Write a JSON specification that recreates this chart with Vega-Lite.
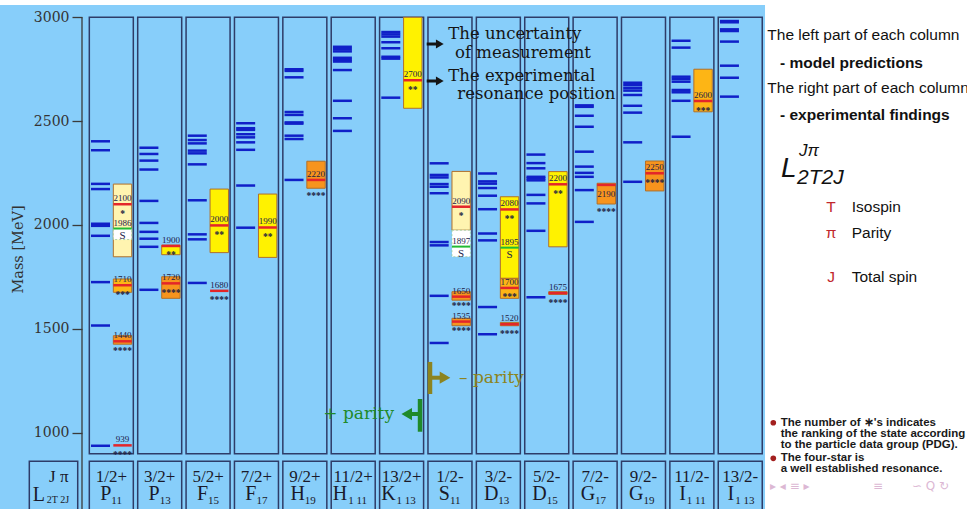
{
 "$schema": "https://vega.github.io/schema/vega-lite/v6.json",
 "width": 885, "height": 509,
 "autosize": {"type": "none"},
 "padding": {"left": 82, "top": 0, "right": 0, "bottom": 0},
 "background": "#87cefa",
 "config": {"view": {"stroke": null}},
 "datasets": {
  "cols": [
   {"col":1,"jp":"1/2+","L":"P","sub":"11"},
   {"col":2,"jp":"3/2+","L":"P","sub":"13"},
   {"col":3,"jp":"5/2+","L":"F","sub":"15"},
   {"col":4,"jp":"7/2+","L":"F","sub":"17"},
   {"col":5,"jp":"9/2+","L":"H","sub":"19"},
   {"col":6,"jp":"11/2+","L":"H","sub":"1 11"},
   {"col":7,"jp":"13/2+","L":"K","sub":"1 13"},
   {"col":8,"jp":"1/2-","L":"S","sub":"11"},
   {"col":9,"jp":"3/2-","L":"D","sub":"13"},
   {"col":10,"jp":"5/2-","L":"D","sub":"15"},
   {"col":11,"jp":"7/2-","L":"G","sub":"17"},
   {"col":12,"jp":"9/2-","L":"G","sub":"19"},
   {"col":13,"jp":"11/2-","L":"I","sub":"1 11"},
   {"col":14,"jp":"13/2-","L":"I","sub":"1 13"}
  ],
  "model": [
   {"col":1,"m":2403},{"col":1,"m":2360},{"col":1,"m":2198},{"col":1,"m":2173},{"col":1,"m":2006},{"col":1,"m":1996},{"col":1,"m":1948},{"col":1,"m":1725},{"col":1,"m":1516},{"col":1,"m":937},
   {"col":2,"m":2372},{"col":2,"m":2342},{"col":2,"m":2310},{"col":2,"m":2267},{"col":2,"m":2116},{"col":2,"m":2010},{"col":2,"m":1967},{"col":2,"m":1934},{"col":2,"m":1895},{"col":2,"m":1688},
   {"col":3,"m":2430},{"col":3,"m":2409},{"col":3,"m":2393},{"col":3,"m":2358},{"col":3,"m":2345},{"col":3,"m":2292},{"col":3,"m":2119},{"col":3,"m":1955},{"col":3,"m":1931},{"col":3,"m":1721},
   {"col":4,"m":2490},{"col":4,"m":2466},{"col":4,"m":2458},{"col":4,"m":2437},{"col":4,"m":2422},{"col":4,"m":2398},{"col":4,"m":2362},{"col":4,"m":2190},{"col":4,"m":1987},
   {"col":5,"m":2750},{"col":5,"m":2742},{"col":5,"m":2711},{"col":5,"m":2544},{"col":5,"m":2530},{"col":5,"m":2494},{"col":5,"m":2488},{"col":5,"m":2430},{"col":5,"m":2414},{"col":5,"m":2217},
   {"col":6,"m":2858},{"col":6,"m":2847},{"col":6,"m":2836},{"col":6,"m":2805},{"col":6,"m":2795},{"col":6,"m":2787},{"col":6,"m":2746},{"col":6,"m":2598},{"col":6,"m":2514},{"col":6,"m":2453},
   {"col":7,"m":2929},{"col":7,"m":2918},{"col":7,"m":2907},{"col":7,"m":2880},{"col":7,"m":2851},{"col":7,"m":2810},{"col":7,"m":2801},{"col":7,"m":2613},
   {"col":8,"m":2297},{"col":8,"m":2241},{"col":8,"m":2229},{"col":8,"m":2197},{"col":8,"m":2184},{"col":8,"m":2153},{"col":8,"m":1918},{"col":8,"m":1902},{"col":8,"m":1659},{"col":8,"m":1432},
   {"col":9,"m":2248},{"col":9,"m":2210},{"col":9,"m":2199},{"col":9,"m":2178},{"col":9,"m":2141},{"col":9,"m":2076},{"col":9,"m":1959},{"col":9,"m":1926},{"col":9,"m":1605},{"col":9,"m":1474},
   {"col":10,"m":2339},{"col":10,"m":2298},{"col":10,"m":2273},{"col":10,"m":2232},{"col":10,"m":2224},{"col":10,"m":2215},{"col":10,"m":2145},{"col":10,"m":2104},{"col":10,"m":1972},{"col":10,"m":1652},
   {"col":11,"m":2576},{"col":11,"m":2569},{"col":11,"m":2526},{"col":11,"m":2473},{"col":11,"m":2353},{"col":11,"m":2281},{"col":11,"m":2251},{"col":11,"m":2232},{"col":11,"m":2168},{"col":11,"m":2015},
   {"col":12,"m":2685},{"col":12,"m":2673},{"col":12,"m":2659},{"col":12,"m":2647},{"col":12,"m":2626},{"col":12,"m":2574},{"col":12,"m":2541},{"col":12,"m":2398},{"col":12,"m":2208},
   {"col":13,"m":2887},{"col":13,"m":2854},{"col":13,"m":2714},{"col":13,"m":2703},{"col":13,"m":2690},{"col":13,"m":2650},{"col":13,"m":2639},{"col":13,"m":2598},{"col":13,"m":2425},
   {"col":14,"m":2982},{"col":14,"m":2976},{"col":14,"m":2942},{"col":14,"m":2934},{"col":14,"m":2883},{"col":14,"m":2767},{"col":14,"m":2709},{"col":14,"m":2618}
  ],
  "exp": [
   {"col":1,"label":"939","mass":939,"lo":939,"hi":939,"rating":"****"},
   {"col":1,"label":"1440","mass":1440,"lo":1426,"hi":1467,"rating":"****"},
   {"col":1,"label":"1710","mass":1710,"lo":1676,"hi":1740,"rating":"***"},
   {"col":1,"label":"2100","mass":2100,"lo":1847,"hi":2197,"rating":"*"},
   {"col":2,"label":"1720","mass":1719,"lo":1647,"hi":1751,"rating":"****"},
   {"col":2,"label":"1900","mass":1899,"lo":1857,"hi":1903,"rating":"**"},
   {"col":3,"label":"1680","mass":1683,"lo":1683,"hi":1683,"rating":"****"},
   {"col":3,"label":"2000","mass":1998,"lo":1867,"hi":2173,"rating":"**"},
   {"col":4,"label":"1990","mass":1988,"lo":1844,"hi":2149,"rating":"**"},
   {"col":5,"label":"2220","mass":2217,"lo":2177,"hi":2307,"rating":"****"},
   {"col":7,"label":"2700","mass":2697,"lo":2562,"hi":3000,"rating":"**"},
   {"col":8,"label":"1535","mass":1535,"lo":1515,"hi":1551,"rating":"****"},
   {"col":8,"label":"1650","mass":1655,"lo":1638,"hi":1679,"rating":"****"},
   {"col":8,"label":"2090","mass":2088,"lo":1975,"hi":2258,"rating":"*"},
   {"col":9,"label":"1520","mass":1522,"lo":1515,"hi":1531,"rating":"****"},
   {"col":9,"label":"2080","mass":2075,"lo":1743,"hi":2136,"rating":"**"},
   {"col":9,"label":"1700","mass":1697,"lo":1647,"hi":1743,"rating":"***"},
   {"col":10,"label":"1675","mass":1672,"lo":1666,"hi":1679,"rating":"****"},
   {"col":10,"label":"2200","mass":2196,"lo":1895,"hi":2257,"rating":"**"},
   {"col":11,"label":"2190","mass":2193,"lo":2101,"hi":2201,"rating":"****"},
   {"col":12,"label":"2250","mass":2249,"lo":2164,"hi":2308,"rating":"****"},
   {"col":13,"label":"2600","mass":2597,"lo":2545,"hi":2750,"rating":"***"}
  ],
  "sst": [
   {"col":1,"label":"1986","mass":1983,"lo":1930,"hi":1983},
   {"col":8,"label":"1897","mass":1896,"lo":1847,"hi":1975},
   {"col":9,"label":"1895","mass":1891,"lo":1891,"hi":1891}
  ]
 },
 "layer": [
  {"data": {"values": [{"a": 14.512, "b": 19.5, "c": 600, "d": 3100}, {"a": -2, "b": 19.5, "c": 3059, "d": 3100}]},
   "mark": {"type": "rect", "fill": "#ffffff"},
   "encoding": {
    "x": {"field": "a", "type": "quantitative", "scale": {"domain": [0.394, 18.687], "nice": false, "zero": false}, "axis": null},
    "x2": {"field": "b"},
    "y": {"field": "c", "type": "quantitative", "scale": {"domain": [632.6, 3083.3], "nice": false, "zero": false}},
    "y2": {"field": "d"}
   }},
  {"data": {"name": "cols"},
   "mark": {"type": "rect", "fill": "#87cefa", "stroke": "#2e3c68", "strokeWidth": 1.5, "xOffset": -22, "x2Offset": 22},
   "encoding": {
    "x": {"field": "col", "type": "quantitative", "scale": {"domain": [0.394, 18.687], "nice": false, "zero": false}, "axis": null},
    "x2": {"field": "col"},
    "y": {"datum": 899, "type": "quantitative", "scale": {"domain": [632.6, 3083.3], "nice": false, "zero": false}},
    "y2": {"datum": 3000}
   }},
  {"data": {"name": "cols"},
   "mark": {"type": "rect", "fill": "#87cefa", "stroke": "#2e3c68", "strokeWidth": 1.5, "xOffset": -22, "x2Offset": 22},
   "encoding": {
    "x": {"field": "col", "type": "quantitative", "scale": {"domain": [0.394, 18.687], "nice": false, "zero": false}, "axis": null},
    "x2": {"field": "col"},
    "y": {"datum": 862, "type": "quantitative", "scale": {"domain": [632.6, 3083.3], "nice": false, "zero": false}},
    "y2": {"datum": 600}
   }},
  {"data": {"values": [{}]},
   "mark": {"type": "rect", "fill": "#87cefa", "stroke": "#2e3c68", "strokeWidth": 1.5},
   "encoding": {
    "x": {"datum": -0.695, "type": "quantitative", "scale": {"domain": [0.394, 18.687], "nice": false, "zero": false}, "axis": null},
    "x2": {"datum": 0.3055},
    "y": {"datum": 862, "type": "quantitative", "scale": {"domain": [632.6, 3083.3], "nice": false, "zero": false}},
    "y2": {"datum": 600}
   }},
  {"data": {"values": [{}]},
   "mark": {"type": "rule", "stroke": "#3a3a3a", "strokeWidth": 1.3},
   "encoding": {
    "x": {"datum": 0.394, "type": "quantitative", "scale": {"domain": [0.394, 18.687], "nice": false, "zero": false}, "axis": null},
    "y": {"datum": 3000, "type": "quantitative", "scale": {"domain": [632.6, 3083.3], "nice": false, "zero": false}},
    "y2": {"datum": 600}
   }},
  {"data": {"name": "cols"},
   "mark": {"type": "text", "font": "Liberation Serif", "fontSize": 17, "fill": "#1a1a2a", "align": "center", "baseline": "middle"},
   "encoding": {
    "x": {"field": "col", "type": "quantitative", "scale": {"domain": [0.394, 18.687], "nice": false, "zero": false}, "axis": null},
    "y": {"datum": 787.9, "type": "quantitative", "scale": {"domain": [632.6, 3083.3], "nice": false, "zero": false}},
    "text": {"field": "jp"}
   }},
  {"data": {"name": "cols"},
   "transform": [{"filter": "length(datum.sub) <= 2"}],
   "mark": {"type": "text", "font": "Liberation Serif", "fontSize": 20, "fill": "#1a1a2a", "align": "right", "baseline": "alphabetic", "dx": 0},
   "encoding": {
    "x": {"field": "col", "type": "quantitative", "scale": {"domain": [0.394, 18.687], "nice": false, "zero": false}, "axis": null},
    "y": {"datum": 675.8, "type": "quantitative", "scale": {"domain": [632.6, 3083.3], "nice": false, "zero": false}},
    "text": {"field": "L"}
   }},
  {"data": {"name": "cols"},
   "transform": [{"filter": "length(datum.sub) <= 2"}],
   "mark": {"type": "text", "font": "Liberation Serif", "fontSize": 11, "fill": "#1a1a2a", "align": "left", "baseline": "alphabetic", "dx": 0, "dy": 4},
   "encoding": {
    "x": {"field": "col", "type": "quantitative", "scale": {"domain": [0.394, 18.687], "nice": false, "zero": false}, "axis": null},
    "y": {"datum": 675.8, "type": "quantitative", "scale": {"domain": [632.6, 3083.3], "nice": false, "zero": false}},
    "text": {"field": "sub"}
   }},
  {"data": {"name": "cols"},
   "transform": [{"filter": "length(datum.sub) > 2"}],
   "mark": {"type": "text", "font": "Liberation Serif", "fontSize": 20, "fill": "#1a1a2a", "align": "right", "baseline": "alphabetic", "dx": -6},
   "encoding": {
    "x": {"field": "col", "type": "quantitative", "scale": {"domain": [0.394, 18.687], "nice": false, "zero": false}, "axis": null},
    "y": {"datum": 675.8, "type": "quantitative", "scale": {"domain": [632.6, 3083.3], "nice": false, "zero": false}},
    "text": {"field": "L"}
   }},
  {"data": {"name": "cols"},
   "transform": [{"filter": "length(datum.sub) > 2"}],
   "mark": {"type": "text", "font": "Liberation Serif", "fontSize": 11, "fill": "#1a1a2a", "align": "left", "baseline": "alphabetic", "dx": -5, "dy": 4},
   "encoding": {
    "x": {"field": "col", "type": "quantitative", "scale": {"domain": [0.394, 18.687], "nice": false, "zero": false}, "axis": null},
    "y": {"datum": 675.8, "type": "quantitative", "scale": {"domain": [632.6, 3083.3], "nice": false, "zero": false}},
    "text": {"field": "sub"}
   }},
  {"data": {"values": [{}]},
   "mark": {"type": "text", "text": "J π", "font": "Liberation Serif", "fontSize": 17, "fill": "#1a1a2a", "align": "center", "baseline": "middle"},
   "encoding": {
    "x": {"datum": -0.085, "type": "quantitative", "scale": {"domain": [0.394, 18.687], "nice": false, "zero": false}, "axis": null},
    "y": {"datum": 787.9, "type": "quantitative", "scale": {"domain": [632.6, 3083.3], "nice": false, "zero": false}}
   }},
  {"data": {"values": [{}]},
   "mark": {"type": "text", "text": "L", "font": "Liberation Serif", "fontSize": 20, "fill": "#1a1a2a", "align": "right", "baseline": "alphabetic"},
   "encoding": {
    "x": {"datum": -0.37, "type": "quantitative", "scale": {"domain": [0.394, 18.687], "nice": false, "zero": false}, "axis": null},
    "y": {"datum": 671, "type": "quantitative", "scale": {"domain": [632.6, 3083.3], "nice": false, "zero": false}}
   }},
  {"data": {"values": [{}]},
   "mark": {"type": "text", "text": "2T 2J", "font": "Liberation Serif", "fontSize": 10, "fill": "#1a1a2a", "align": "left", "baseline": "alphabetic"},
   "encoding": {
    "x": {"datum": -0.335, "type": "quantitative", "scale": {"domain": [0.394, 18.687], "nice": false, "zero": false}, "axis": null},
    "y": {"datum": 660, "type": "quantitative", "scale": {"domain": [632.6, 3083.3], "nice": false, "zero": false}}
   }},
  {"data": {"name": "model"},
   "mark": {"type": "rule", "stroke": "#1020c8", "strokeWidth": 2.5, "xOffset": -20.3, "x2Offset": -1.3},
   "encoding": {
    "x": {"field": "col", "type": "quantitative", "scale": {"domain": [0.394, 18.687], "nice": false, "zero": false}, "axis": null},
    "x2": {"field": "col"},
    "y": {"field": "m", "type": "quantitative", "scale": {"domain": [632.6, 3083.3], "nice": false, "zero": false},
     "axis": {"values": [1000,1500,2000,2500,3000], "format": "d", "title": "Mass [MeV]", "domain": false, "grid": false, "zindex": 1, "orient": "left",
      "tickSize": 10, "tickColor": "#3a3a3a", "tickWidth": 1.3, "labelFont": "DejaVu Serif", "labelFontSize": 14,
      "labelColor": "#333333", "labelPadding": 3, "titleFont": "DejaVu Serif", "titleFontSize": 14.5, "titleFontWeight": "normal",
      "titleColor": "#333333", "titleX": -64, "titleY": 249, "titleAngle": -90, "titleAlign": "center", "titleBaseline": "middle"}}
   }},
  {"data": {"name": "exp"},
   "transform": [{"filter": "datum.hi > datum.lo"}],
   "mark": {"type": "rect", "stroke": "#b0702a", "strokeWidth": 1, "xOffset": 2, "x2Offset": 20.4},
   "encoding": {
    "x": {"field": "col", "type": "quantitative", "scale": {"domain": [0.394, 18.687], "nice": false, "zero": false}, "axis": null},
    "x2": {"field": "col"},
    "y": {"field": "lo", "type": "quantitative", "scale": {"domain": [632.6, 3083.3], "nice": false, "zero": false}},
    "y2": {"field": "hi"},
    "fill": {"field": "rating", "type": "nominal", "scale": {"domain": ["****","***","**","*"], "range": ["#f7941d","#fdb515","#fff200","#fff4b0"]}, "legend": null},
    "strokeDash": {"field": "rating", "type": "nominal", "scale": {"domain": ["****","***","**","*"], "range": [[1,0],[1,0],[3,2],[3,2]]}, "legend": null}
   }},
  {"data": {"name": "exp"},
   "mark": {"type": "rule", "stroke": "#e3262a", "strokeWidth": 2.5, "xOffset": 2, "x2Offset": 20.4},
   "encoding": {
    "x": {"field": "col", "type": "quantitative", "scale": {"domain": [0.394, 18.687], "nice": false, "zero": false}, "axis": null},
    "x2": {"field": "col"},
    "y": {"field": "mass", "type": "quantitative", "scale": {"domain": [632.6, 3083.3], "nice": false, "zero": false}}
   }},
  {"data": {"name": "sst"},
   "transform": [{"filter": "datum.hi > datum.lo"}],
   "mark": {"type": "rect", "fill": "#ffffff", "stroke": "#9acd9a", "strokeWidth": 0.8, "strokeDash": [2,2], "xOffset": 2, "x2Offset": 20.4},
   "encoding": {
    "x": {"field": "col", "type": "quantitative", "scale": {"domain": [0.394, 18.687], "nice": false, "zero": false}, "axis": null},
    "x2": {"field": "col"},
    "y": {"field": "lo", "type": "quantitative", "scale": {"domain": [632.6, 3083.3], "nice": false, "zero": false}},
    "y2": {"field": "hi"}
   }},
  {"data": {"name": "sst"},
   "mark": {"type": "rule", "stroke": "#22bb33", "strokeWidth": 2, "xOffset": 2, "x2Offset": 20.4},
   "encoding": {
    "x": {"field": "col", "type": "quantitative", "scale": {"domain": [0.394, 18.687], "nice": false, "zero": false}, "axis": null},
    "x2": {"field": "col"},
    "y": {"field": "mass", "type": "quantitative", "scale": {"domain": [632.6, 3083.3], "nice": false, "zero": false}}
   }},
  {"data": {"name": "exp"},
   "transform": [{"filter": "datum.label != '2190'"}],
   "mark": {"type": "text", "font": "Liberation Serif", "fontSize": 9, "fill": "#202048", "align": "center", "baseline": "middle", "dx": 11.2, "dy": -6},
   "encoding": {
    "x": {"field": "col", "type": "quantitative", "scale": {"domain": [0.394, 18.687], "nice": false, "zero": false}, "axis": null},
    "y": {"field": "mass", "type": "quantitative", "scale": {"domain": [632.6, 3083.3], "nice": false, "zero": false}},
    "text": {"field": "label"}
   }},
  {"data": {"name": "exp"},
   "transform": [{"filter": "datum.label == '2190'"}],
   "mark": {"type": "text", "font": "Liberation Serif", "fontSize": 9, "fill": "#202048", "align": "center", "baseline": "middle", "dx": 11.2, "dy": 9},
   "encoding": {
    "x": {"field": "col", "type": "quantitative", "scale": {"domain": [0.394, 18.687], "nice": false, "zero": false}, "axis": null},
    "y": {"field": "mass", "type": "quantitative", "scale": {"domain": [632.6, 3083.3], "nice": false, "zero": false}},
    "text": {"field": "label"}
   }},
  {"data": {"name": "exp"},
   "transform": [{"filter": "datum.label != '2190' && datum.label != '2220'"}],
   "mark": {"type": "text", "font": "Liberation Serif", "fontSize": 9.5, "fontWeight": "bold", "fill": "#202040", "align": "center", "baseline": "alphabetic", "dx": 11.2, "dy": 12.5},
   "encoding": {
    "x": {"field": "col", "type": "quantitative", "scale": {"domain": [0.394, 18.687], "nice": false, "zero": false}, "axis": null},
    "y": {"field": "mass", "type": "quantitative", "scale": {"domain": [632.6, 3083.3], "nice": false, "zero": false}},
    "text": {"field": "rating"}
   }},
  {"data": {"name": "exp"},
   "transform": [{"filter": "datum.label == '2190' || datum.label == '2220'"}],
   "mark": {"type": "text", "font": "Liberation Serif", "fontSize": 9.5, "fontWeight": "bold", "fill": "#202040", "align": "center", "baseline": "alphabetic", "dx": 11.2, "dy": 11},
   "encoding": {
    "x": {"field": "col", "type": "quantitative", "scale": {"domain": [0.394, 18.687], "nice": false, "zero": false}, "axis": null},
    "y": {"field": "lo", "type": "quantitative", "scale": {"domain": [632.6, 3083.3], "nice": false, "zero": false}},
    "text": {"field": "rating"}
   }},
  {"data": {"name": "sst"},
   "mark": {"type": "text", "font": "Liberation Serif", "fontSize": 9, "fill": "#202048", "align": "center", "baseline": "middle", "dx": 11.2, "dy": -6},
   "encoding": {
    "x": {"field": "col", "type": "quantitative", "scale": {"domain": [0.394, 18.687], "nice": false, "zero": false}, "axis": null},
    "y": {"field": "mass", "type": "quantitative", "scale": {"domain": [632.6, 3083.3], "nice": false, "zero": false}},
    "text": {"field": "label"}
   }},
  {"data": {"name": "sst"},
   "mark": {"type": "text", "text": "S", "font": "Liberation Serif", "fontSize": 11, "fill": "#202048", "align": "center", "baseline": "middle", "dx": 11.2, "dy": 7.5},
   "encoding": {
    "x": {"field": "col", "type": "quantitative", "scale": {"domain": [0.394, 18.687], "nice": false, "zero": false}, "axis": null},
    "y": {"field": "mass", "type": "quantitative", "scale": {"domain": [632.6, 3083.3], "nice": false, "zero": false}}
   }},
  {"data": {"values": [{"t": "The uncertainty", "x": 7.966, "y": 2919.6}, {"t": "of measurement", "x": 8.104, "y": 2826.7}, {"t": "The experimental", "x": 7.966, "y": 2717.4}, {"t": "resonance position", "x": 8.152, "y": 2630.7}]},
   "mark": {"type": "text", "font": "DejaVu Serif", "fontSize": 16.5, "fill": "#151515", "align": "left", "baseline": "middle"},
   "encoding": {
    "x": {"field": "x", "type": "quantitative", "scale": {"domain": [0.394, 18.687], "nice": false, "zero": false}, "axis": null},
    "y": {"field": "y", "type": "quantitative", "scale": {"domain": [632.6, 3083.3], "nice": false, "zero": false}},
    "text": {"field": "t"}
   }},
  {"data": {"values": [{"y": 2871.4}, {"y": 2693.3}]},
   "mark": {"type": "rule", "stroke": "#151515", "strokeWidth": 3},
   "encoding": {
    "x": {"datum": 7.519, "type": "quantitative", "scale": {"domain": [0.394, 18.687], "nice": false, "zero": false}, "axis": null},
    "x2": {"datum": 7.75},
    "y": {"field": "y", "type": "quantitative", "scale": {"domain": [632.6, 3083.3], "nice": false, "zero": false}}
   }},
  {"data": {"values": [{"y": 2871.4}, {"y": 2693.3}]},
   "mark": {"type": "point", "shape": "triangle-right", "filled": true, "fill": "#151515", "size": 80, "opacity": 1},
   "encoding": {
    "x": {"datum": 7.79, "type": "quantitative", "scale": {"domain": [0.394, 18.687], "nice": false, "zero": false}, "axis": null},
    "y": {"field": "y", "type": "quantitative", "scale": {"domain": [632.6, 3083.3], "nice": false, "zero": false}}
   }},
  {"data": {"values": [{}]},
   "mark": {"type": "rule", "stroke": "#8c8420", "strokeWidth": 4.5},
   "encoding": {
    "x": {"datum": 7.587, "type": "quantitative", "scale": {"domain": [0.394, 18.687], "nice": false, "zero": false}, "axis": null},
    "y": {"datum": 1186.4, "type": "quantitative", "scale": {"domain": [632.6, 3083.3], "nice": false, "zero": false}},
    "y2": {"datum": 1340.6}
   }},
  {"data": {"values": [{}]},
   "mark": {"type": "rule", "stroke": "#8c8420", "strokeWidth": 4},
   "encoding": {
    "x": {"datum": 7.587, "type": "quantitative", "scale": {"domain": [0.394, 18.687], "nice": false, "zero": false}, "axis": null},
    "x2": {"datum": 7.82},
    "y": {"datum": 1264.7, "type": "quantitative", "scale": {"domain": [632.6, 3083.3], "nice": false, "zero": false}}
   }},
  {"data": {"values": [{}]},
   "mark": {"type": "point", "shape": "triangle-right", "filled": true, "fill": "#8c8420", "size": 150, "opacity": 1},
   "encoding": {
    "x": {"datum": 7.897, "type": "quantitative", "scale": {"domain": [0.394, 18.687], "nice": false, "zero": false}, "axis": null},
    "y": {"datum": 1264.7, "type": "quantitative", "scale": {"domain": [632.6, 3083.3], "nice": false, "zero": false}}
   }},
  {"data": {"values": [{}]},
   "mark": {"type": "text", "text": "– parity", "font": "DejaVu Serif", "fontSize": 17, "fill": "#8c8420", "align": "left", "baseline": "middle"},
   "encoding": {
    "x": {"datum": 8.187, "type": "quantitative", "scale": {"domain": [0.394, 18.687], "nice": false, "zero": false}, "axis": null},
    "y": {"datum": 1264.7, "type": "quantitative", "scale": {"domain": [632.6, 3083.3], "nice": false, "zero": false}}
   }},
  {"data": {"values": [{}]},
   "mark": {"type": "rule", "stroke": "#1f8a2a", "strokeWidth": 4.5},
   "encoding": {
    "x": {"datum": 7.381, "type": "quantitative", "scale": {"domain": [0.394, 18.687], "nice": false, "zero": false}, "axis": null},
    "y": {"datum": 1004.6, "type": "quantitative", "scale": {"domain": [632.6, 3083.3], "nice": false, "zero": false}},
    "y2": {"datum": 1162.1}
   }},
  {"data": {"values": [{}]},
   "mark": {"type": "rule", "stroke": "#1f8a2a", "strokeWidth": 4},
   "encoding": {
    "x": {"datum": 7.16, "type": "quantitative", "scale": {"domain": [0.394, 18.687], "nice": false, "zero": false}, "axis": null},
    "x2": {"datum": 7.381},
    "y": {"datum": 1089.9, "type": "quantitative", "scale": {"domain": [632.6, 3083.3], "nice": false, "zero": false}}
   }},
  {"data": {"values": [{}]},
   "mark": {"type": "point", "shape": "triangle-left", "filled": true, "fill": "#1f8a2a", "size": 150, "opacity": 1},
   "encoding": {
    "x": {"datum": 7.106, "type": "quantitative", "scale": {"domain": [0.394, 18.687], "nice": false, "zero": false}, "axis": null},
    "y": {"datum": 1089.9, "type": "quantitative", "scale": {"domain": [632.6, 3083.3], "nice": false, "zero": false}}
   }},
  {"data": {"values": [{}]},
   "mark": {"type": "text", "text": "+ parity", "font": "DejaVu Serif", "fontSize": 17, "fill": "#1f8a2a", "align": "right", "baseline": "middle"},
   "encoding": {
    "x": {"datum": 6.843, "type": "quantitative", "scale": {"domain": [0.394, 18.687], "nice": false, "zero": false}, "axis": null},
    "y": {"datum": 1089.9, "type": "quantitative", "scale": {"domain": [632.6, 3083.3], "nice": false, "zero": false}}
   }},
  {"data": {"values": [{"t": "The left part of each column", "x": 14.559, "y": 2914.8}, {"t": "The right part of each column", "x": 14.559, "y": 2658.1}]},
   "mark": {"type": "text", "font": "Liberation Sans", "fontSize": 15.5, "fill": "#111111", "align": "left", "baseline": "middle"},
   "encoding": {
    "x": {"field": "x", "type": "quantitative", "scale": {"domain": [0.394, 18.687], "nice": false, "zero": false}, "axis": null},
    "y": {"field": "y", "type": "quantitative", "scale": {"domain": [632.6, 3083.3], "nice": false, "zero": false}},
    "text": {"field": "t"}
   }},
  {"data": {"values": [{"t": "- model predictions", "x": 14.822, "y": 2781.4}, {"t": "- experimental findings", "x": 14.822, "y": 2529.6}]},
   "mark": {"type": "text", "font": "Liberation Sans", "fontSize": 15.5, "fontWeight": "bold", "fill": "#111111", "align": "left", "baseline": "middle"},
   "encoding": {
    "x": {"field": "x", "type": "quantitative", "scale": {"domain": [0.394, 18.687], "nice": false, "zero": false}, "axis": null},
    "y": {"field": "y", "type": "quantitative", "scale": {"domain": [632.6, 3083.3], "nice": false, "zero": false}},
    "text": {"field": "t"}
   }},
  {"data": {"values": [{"t": "L", "x": 14.843, "y": 2232.5, "s": 28}, {"t": "Jπ", "x": 15.215, "y": 2332.2, "s": 17}, {"t": "2T2J", "x": 15.173, "y": 2195.9, "s": 21}]},
   "mark": {"type": "text", "font": "Liberation Sans", "fontStyle": "italic", "fill": "#111111", "align": "left", "baseline": "alphabetic"},
   "encoding": {
    "x": {"field": "x", "type": "quantitative", "scale": {"domain": [0.394, 18.687], "nice": false, "zero": false}, "axis": null},
    "y": {"field": "y", "type": "quantitative", "scale": {"domain": [632.6, 3083.3], "nice": false, "zero": false}},
    "text": {"field": "t"},
    "size": {"field": "s", "type": "quantitative", "scale": null}
   }},
  {"data": {"values": [{"t": "T", "y": 2088.0}, {"t": "π", "y": 1961.4}, {"t": "J", "y": 1748.1}]},
   "mark": {"type": "text", "font": "Liberation Sans", "fontSize": 15.5, "fill": "#c1272d", "align": "center", "baseline": "middle"},
   "encoding": {
    "x": {"datum": 15.876, "type": "quantitative", "scale": {"domain": [0.394, 18.687], "nice": false, "zero": false}, "axis": null},
    "y": {"field": "y", "type": "quantitative", "scale": {"domain": [632.6, 3083.3], "nice": false, "zero": false}},
    "text": {"field": "t"}
   }},
  {"data": {"values": [{"t": "Isospin", "y": 2088.0}, {"t": "Parity", "y": 1961.4}, {"t": "Total spin", "y": 1748.1}]},
   "mark": {"type": "text", "font": "Liberation Sans", "fontSize": 15.5, "fill": "#111111", "align": "left", "baseline": "middle"},
   "encoding": {
    "x": {"datum": 16.304, "type": "quantitative", "scale": {"domain": [0.394, 18.687], "nice": false, "zero": false}, "axis": null},
    "y": {"field": "y", "type": "quantitative", "scale": {"domain": [632.6, 3083.3], "nice": false, "zero": false}},
    "text": {"field": "t"}
   }},
  {"data": {"values": [{"y": 1048.0}, {"y": 876.6}]},
   "mark": {"type": "point", "shape": "circle", "filled": true, "fill": "#a3201f", "size": 32, "opacity": 1},
   "encoding": {
    "x": {"datum": 14.683, "type": "quantitative", "scale": {"domain": [0.394, 18.687], "nice": false, "zero": false}, "axis": null},
    "y": {"field": "y", "type": "quantitative", "scale": {"domain": [632.6, 3083.3], "nice": false, "zero": false}}
   }},
  {"data": {"values": [{"t": "The number of ∗'s indicates", "y": 1048.0}, {"t": "the ranking of the state according", "y": 992.1}, {"t": "to the particle data group (PDG).", "y": 940.6}, {"t": "The four-star is", "y": 876.6}, {"t": "a well established resonance.", "y": 825.0}]},
   "mark": {"type": "text", "font": "Liberation Sans", "fontSize": 11.5, "fontWeight": "bold", "fill": "#1a1a1a", "align": "left", "baseline": "middle"},
   "encoding": {
    "x": {"datum": 14.836, "type": "quantitative", "scale": {"domain": [0.394, 18.687], "nice": false, "zero": false}, "axis": null},
    "y": {"field": "y", "type": "quantitative", "scale": {"domain": [632.6, 3083.3], "nice": false, "zero": false}},
    "text": {"field": "t"}
   }},
  {"data": {"values": [{"t": "▸ ◂ ≡ ▸", "x": 14.615}, {"t": "≡", "x": 16.744}, {"t": "∽ Q ↻", "x": 17.55}]},
   "mark": {"type": "text", "font": "DejaVu Sans", "fontSize": 12, "fill": "#dcb8d4", "align": "left", "baseline": "middle"},
   "encoding": {
    "x": {"field": "x", "type": "quantitative", "scale": {"domain": [0.394, 18.687], "nice": false, "zero": false}, "axis": null},
    "y": {"datum": 743.2, "type": "quantitative", "scale": {"domain": [632.6, 3083.3], "nice": false, "zero": false}},
    "text": {"field": "t"}
   }}
 ]
}
